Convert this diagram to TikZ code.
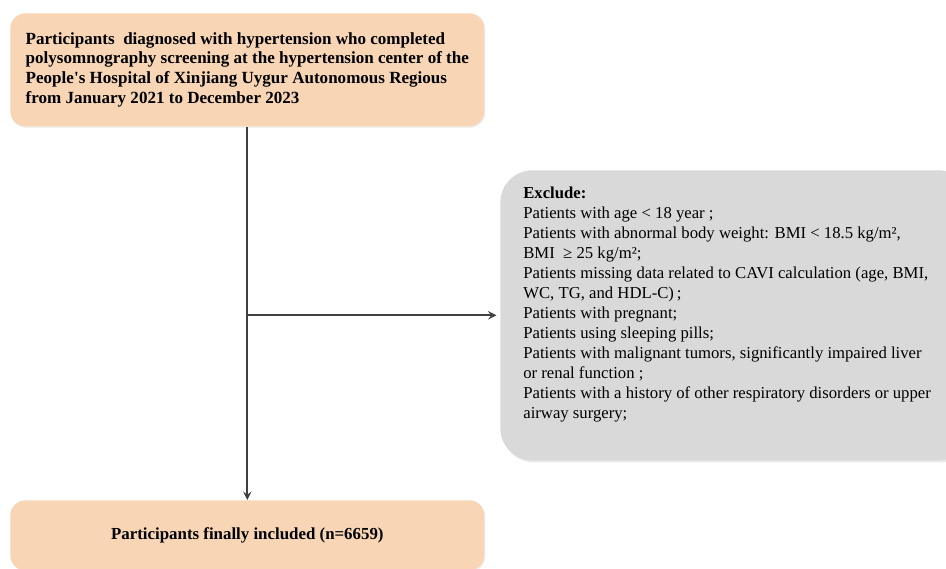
\documentclass[tikz,border=0pt]{standalone}
\usepackage{fontspec}
\setmainfont{Liberation Serif}
\usepackage{tikz}
\usetikzlibrary{shapes.geometric, arrows, shadows}
\definecolor{peach}{HTML}{F8D5B5}
\definecolor{greybox}{HTML}{D9D9D9}
\definecolor{arrowgrey}{HTML}{404040}
\tikzstyle{stage} = [rectangle, rounded corners=15*0.02cm, minimum width=474*0.02cm, fill=peach, draw=none, drop shadow={shadow xshift=0.6pt, shadow yshift=-0.8pt, opacity=0.12}, font=\bfseries\fontsize{9.6}{11.34}\selectfont]
\tikzstyle{excl} = [rectangle, rounded corners=32*0.02cm, minimum width=470*0.02cm, minimum height=290*0.02cm, fill=greybox, draw=none, drop shadow={shadow xshift=1pt, shadow yshift=-1.2pt, opacity=0.18}]
\tikzstyle{arrow} = [line width=1.1pt, draw=arrowgrey, ->, >=stealth]

\begin{document}
\begin{tikzpicture}[x=0.02cm, y=-0.02cm]
		\useasboundingbox (0,0) rectangle (946,568);
		\node (screen) [stage, anchor=north west, minimum height=113*0.02cm, align=left, font=\bfseries\fontsize{9.7}{11.34}\selectfont] at (10,13) {Participants\ \ diagnosed with hypertension who completed\\ polysomnography screening at the hypertension center of the\\ People\textquotesingle s Hospital of Xinjiang Uygur Autonomous Regious\\ from January 2021 to December 2023};
		\node (final) [stage, anchor=north west, minimum height=70*0.02cm] at (10,500) {Participants finally included (n=6659)};
		\node (exclude) [excl, anchor=north west] at (500,170) {};
		\node (reasons) [anchor=north west, align=left, inner sep=0pt, font=\fontsize{9.5}{11.34}\selectfont] at (523,187) {\textbf{Exclude:}\\ Patients with age < 18 year ;\\ Patients with abnormal body weight: BMI < 18.5 kg/m²,\\ BMI\ \ ≥ 25 kg/m²;\\ Patients missing data related to CAVI calculation (age, BMI,\\ WC, TG, and HDL-C)\,;\\ Patients with pregnant;\\ Patients using sleeping pills;\\ Patients with malignant tumors, significantly impaired liver\\ or renal function ;\\ Patients with a history of other respiratory disorders or upper\\ airway surgery;};
		\draw [arrow] (screen.south) -- (final.north);
		\draw [arrow, shorten >=2pt] (screen.south |- exclude.west) -- (exclude.west);
\end{tikzpicture}
\end{document}
